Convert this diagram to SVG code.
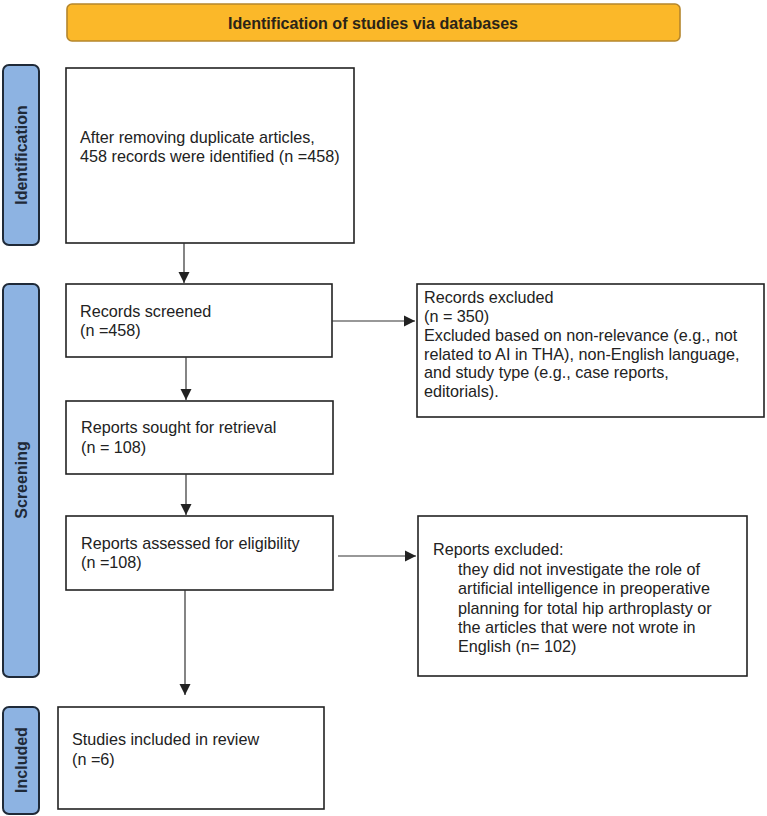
<svg xmlns="http://www.w3.org/2000/svg" width="767" height="816" viewBox="0 0 767 816">
<defs>
<style>
.box{fill:#fff;stroke:#222;stroke-width:1.6}
.side{fill:#8DB3E2;stroke:#1F2A38;stroke-width:2}
.t{font-family:"Liberation Sans",Arial,sans-serif;font-size:16.2px;fill:#222}
.st{font-family:"Liberation Sans",Arial,sans-serif;font-size:16px;font-weight:bold;fill:#1F2A38;text-anchor:middle}
.ln{stroke:#333;stroke-width:1.2;fill:none}
</style>
<marker id="ah" markerWidth="12" markerHeight="12" refX="11" refY="6" orient="auto" markerUnits="userSpaceOnUse">
<path d="M0,0.5 L11,6 L0,11.5 Z" fill="#222"/>
</marker>
</defs>
<rect width="767" height="816" fill="#fff"/>
<g id="header">
<rect x="67" y="4" width="613" height="37" rx="5" fill="#FBB829" stroke="#B5862C" stroke-width="1.6"/>
<text x="373" y="29" font-family="'Liberation Sans',Arial,sans-serif" font-size="16" font-weight="bold" fill="#2A2418" text-anchor="middle" textLength="290" lengthAdjust="spacingAndGlyphs">Identification of studies via databases</text>
</g>
<g id="side-identification">
<rect class="side" x="3" y="65" width="36" height="180" rx="6"/>
<text class="st" transform="translate(27,155) rotate(-90)">Identification</text>
</g>
<g id="side-screening">
<rect class="side" x="3" y="284" width="36" height="393" rx="6"/>
<text class="st" transform="translate(27,480) rotate(-90)">Screening</text>
</g>
<g id="side-included">
<rect class="side" x="3" y="707" width="36" height="107" rx="6"/>
<text class="st" transform="translate(27,760) rotate(-90)">Included</text>
</g>
<g id="n-identified">
<rect class="box" x="66" y="68" width="288" height="175"/>
<text class="t" x="80" y="143">After removing duplicate articles,</text>
<text class="t" x="80" y="162">458 records were identified (n =458)</text>
</g>
<g id="n-screened">
<rect class="box" x="66" y="284" width="266" height="73"/>
<text class="t" x="80" y="317">Records screened</text>
<text class="t" x="80" y="336">(n =458)</text>
</g>
<g id="n-records-excluded">
<rect class="box" x="417" y="284" width="347" height="133"/>
<text class="t" x="424" y="303">Records excluded</text>
<text class="t" x="424" y="322">(n = 350)</text>
<text class="t" x="424" y="341">Excluded based on non-relevance (e.g., not</text>
<text class="t" x="424" y="359.5">related to AI in THA), non-English language,</text>
<text class="t" x="424" y="378">and study type (e.g., case reports,</text>
<text class="t" x="424" y="397">editorials).</text>
</g>
<g id="n-sought">
<rect class="box" x="66" y="401" width="267" height="73"/>
<text class="t" x="81" y="433">Reports sought for retrieval</text>
<text class="t" x="81" y="453">(n = 108)</text>
</g>
<g id="n-assessed">
<rect class="box" x="66" y="516" width="267" height="74"/>
<text class="t" x="81" y="549">Reports assessed for eligibility</text>
<text class="t" x="81" y="568">(n =108)</text>
</g>
<g id="n-reports-excluded">
<rect class="box" x="418" y="516" width="329" height="160"/>
<text class="t" x="433" y="555">Reports excluded:</text>
<text class="t" x="458" y="574.5">they did not investigate the role of</text>
<text class="t" x="458" y="594">artificial intelligence in preoperative</text>
<text class="t" x="458" y="613.5">planning for total hip arthroplasty or</text>
<text class="t" x="458" y="633">the articles that were not wrote in</text>
<text class="t" x="458" y="652">English (n= 102)</text>
</g>
<g id="n-included">
<rect class="box" x="58" y="707" width="266" height="102"/>
<text class="t" x="72" y="745">Studies included in review</text>
<text class="t" x="72" y="765">(n =6)</text>
</g>
<g id="connectors">
<line class="ln" x1="184" y1="243" x2="184" y2="283" marker-end="url(#ah)"/>
<line class="ln" x1="332" y1="321" x2="415" y2="321" marker-end="url(#ah)"/>
<line class="ln" x1="186" y1="357" x2="186" y2="400" marker-end="url(#ah)"/>
<line class="ln" x1="186" y1="474" x2="186" y2="515" marker-end="url(#ah)"/>
<line class="ln" x1="338" y1="556" x2="416" y2="556" marker-end="url(#ah)"/>
<line class="ln" x1="185" y1="590" x2="185" y2="695" marker-end="url(#ah)"/>
</g>
</svg>
